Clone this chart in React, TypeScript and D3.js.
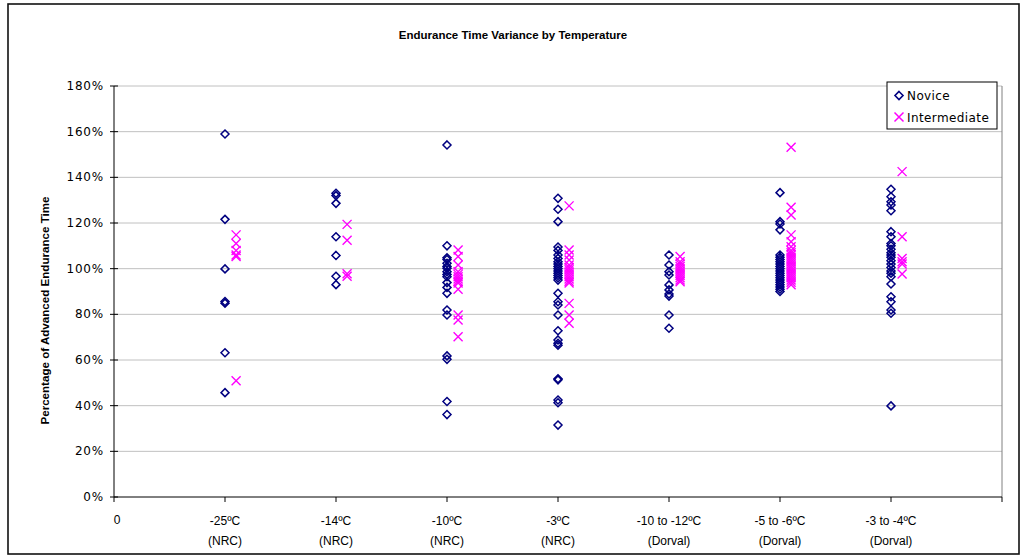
import React from "react";
import * as d3 from "d3";

// Category positions on the numeric x axis and their two-line labels
const categoryX = [1, 2, 3, 4, 5, 6, 7];
const labelLine1 = ["-25ºC", "-14ºC", "-10ºC", "-3ºC", "-10 to -12ºC", "-5 to -6ºC", "-3 to -4ºC"];
const labelLine2 = ["(NRC)", "(NRC)", "(NRC)", "(NRC)", "(Dorval)", "(Dorval)", "(Dorval)"];
const yTicks = [0, 0.2, 0.4, 0.6, 0.8, 1.0, 1.2, 1.4, 1.6, 1.8];
const xTicks = [0, 1, 2, 3, 4, 5, 6, 7, 8];

// Percentages of advanced endurance time, per category
const novice1 = [159, 121.6, 99.9, 85.6, 84.9, 63.2, 45.7];
const novice2 = [133, 132, 128.6, 114, 105.8, 96.7, 93];
const novice3 = [154.2, 110, 104.8, 104, 102.4, 101, 100.2, 98.7, 97.5, 96.5, 93.9, 91.8, 89.2, 81.9, 79.7, 61.8, 60.3, 41.8, 36.1];
const novice4 = [130.8, 126, 120.6, 109.5, 108, 106, 104.5, 103, 102, 101, 100, 99, 98, 97, 96, 95, 89.2, 85.5, 84.1, 79.7, 72.8, 68.8, 67.3, 66.5, 51.8, 51.3, 42.5, 41.3, 31.5];
const novice5 = [106, 101.6, 98.7, 97.2, 92.9, 90.7, 88.9, 88, 79.7, 73.9];
const novice6 = [133.3, 120.6, 119.6, 117, 106, 105, 104, 103, 102, 101, 100, 99, 98, 97, 96, 95, 94, 93, 92, 91, 90];
const novice7 = [134.8, 131.5, 129.3, 127.9, 125.4, 116.2, 114, 111, 110, 108.5, 107, 106, 105, 103.5, 102, 100.5, 99, 98, 96.5, 93.3, 87.7, 85.5, 81.9, 80.5, 39.9];

const inter1 = [114.8, 111, 108, 106, 105.3, 50.9];
const inter2 = [119.4, 112.4, 97.8, 96.7];
const inter3 = [108.2, 105.3, 101.6, 98.7, 97.5, 96.5, 95.5, 94.5, 93.7, 91, 79.7, 77.5, 70.2];
const inter4 = [127.5, 108.2, 106, 103.8, 101.6, 100.5, 99.5, 98.5, 97.5, 96.5, 95.5, 94.5, 93.7, 84.8, 79.7, 76.1];
const inter5 = [105.3, 103, 102, 101, 100, 99, 98, 97, 96, 95, 94.3];
const inter6 = [153.2, 126.9, 123.5, 114.8, 111.8, 109.6, 108, 107, 106, 105, 104, 103, 102, 101, 100, 99, 98, 97, 96, 95, 94, 93];
const inter7 = [142.5, 114, 104.5, 103, 102, 97.7];

const noviceSets = [novice1, novice2, novice3, novice4, novice5, novice6, novice7];
const interSets = [inter1, inter2, inter3, inter4, inter5, inter6, inter7];
const interShift = 0.1;

const W = 1026;
const H = 558;
const NAVY = "#000080";
const MAGENTA = "#FF00FF";
const tickFont = "'DejaVu Sans', Verdana, sans-serif";
const textFont = "'Liberation Sans', Arial, Helvetica, sans-serif";

const x = d3.scaleLinear().domain([0, 8]).range([114, 1002]);
const y = d3.scaleLinear().domain([0, 1.8]).range([497, 86]);
const pct = d3.format(".0%");

const diamond = (cx: number, cy: number, r = 4) =>
  `M${cx},${cy - r}L${cx + r},${cy}L${cx},${cy + r}L${cx - r},${cy}Z`;
const cross = (cx: number, cy: number, r = 4.5) =>
  `M${cx - r},${cy - r}L${cx + r},${cy + r}M${cx + r},${cy - r}L${cx - r},${cy + r}`;

export default function App() {
  const novicePts = noviceSets.flatMap((vals, i) => vals.map((v) => ({ cx: x(categoryX[i]), cy: y(v / 100) })));
  const interPts = interSets.flatMap((vals, i) => vals.map((v) => ({ cx: x(categoryX[i] + interShift), cy: y(v / 100) })));
  const [x0, x1] = x.range();
  const [yb, yt] = y.range();

  return (
    <svg width={W} height={H} style={{ position: "absolute", left: 0, top: 0, background: "#fff" }}>
      <rect x={8} y={4} width={1011} height={550} fill="#fff" stroke="#111" strokeWidth={1.6} />
      <text x={513} y={39} textAnchor="middle" fontFamily={textFont} fontWeight="bold" fontSize={11.5} fill="#000">
        Endurance Time Variance by Temperature
      </text>

      {/* gridlines */}
      {yTicks.slice(1).map((t) => (
        <line key={t} x1={x0} x2={x1} y1={y(t)} y2={y(t)} stroke="#c0c0c0" strokeWidth={1} />
      ))}
      <line x1={x1} x2={x1} y1={yt} y2={yb} stroke="#808080" strokeWidth={1} />

      {/* axes */}
      <line x1={x0} x2={x0} y1={yt} y2={yb} stroke="#000" strokeWidth={1} />
      <line x1={x0} x2={x1} y1={yb} y2={yb} stroke="#000" strokeWidth={1} />
      {yTicks.map((t) => (
        <g key={t}>
          <line x1={x0 - 4} x2={x0 + 4} y1={y(t)} y2={y(t)} stroke="#000" />
          <text x={x0 - 10} y={y(t) + 4} textAnchor="end" fontFamily={tickFont} fontSize={12} letterSpacing={0.8} fill="#000">
            {pct(t)}
          </text>
        </g>
      ))}
      {xTicks.map((t) => (
        <line key={t} x1={x(t)} x2={x(t)} y1={yb} y2={yb + 5} stroke="#000" />
      ))}
      <text x={x(0) + 3} y={524} textAnchor="middle" fontFamily={textFont} fontSize={12} fill="#000">0</text>
      {categoryX.map((c, i) => (
        <g key={c} fontFamily={textFont} fontSize={12} fill="#000" textAnchor="middle">
          <text x={x(c)} y={525}>{labelLine1[i]}</text>
          <text x={x(c)} y={545}>{labelLine2[i]}</text>
        </g>
      ))}
      <text
        transform={`translate(49,${(yt + yb) / 2 + 19}) rotate(-90)`}
        textAnchor="middle"
        fontFamily={textFont}
        fontWeight="bold"
        fontSize={11.6}
        fill="#000"
      >
        Percentage of Advanced Endurance Time
      </text>

      {/* points */}
      {novicePts.map((p, i) => (
        <path key={"n" + i} d={diamond(p.cx, p.cy)} fill="none" stroke={NAVY} strokeWidth={1.5} />
      ))}
      {interPts.map((p, i) => (
        <path key={"m" + i} d={cross(p.cx, p.cy)} fill="none" stroke={MAGENTA} strokeWidth={1.4} />
      ))}

      {/* legend */}
      <rect x={887} y={82} width={110} height={47} fill="#fff" stroke="#000" strokeWidth={1} />
      <path d={diamond(899, 95.5)} fill="none" stroke={NAVY} strokeWidth={1.6} />
      <text x={907} y={100} fontFamily={tickFont} fontSize={12} letterSpacing={0.4} fill="#000">Novice</text>
      <path d={cross(899, 117)} fill="none" stroke={MAGENTA} strokeWidth={1.5} />
      <text x={907} y={121.5} fontFamily={tickFont} fontSize={12} letterSpacing={0.4} fill="#000">Intermediate</text>
    </svg>
  );
}
